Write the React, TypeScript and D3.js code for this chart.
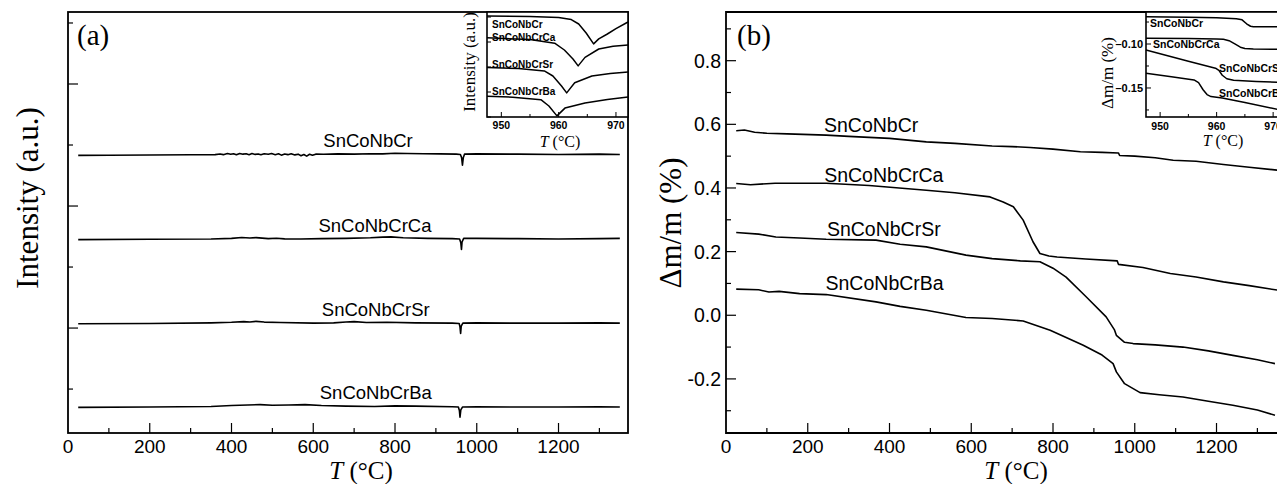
import React, { useEffect, useRef } from 'react'
import * as d3 from 'd3'

const W = 1277
const H = 484

const samples = ['SnCoNbCr', 'SnCoNbCrCa', 'SnCoNbCrSr', 'SnCoNbCrBa']

// (a) DSC signal, [T (°C), signal (a.u.)] before stacking
const dscCr = [[25, 0], [100, 0.002], [200, 0.006], [300, 0.01], [360, 0.012], [372, 0.022], [380, 0.012], [390, 0.03], [398, 0.018], [405, 0.028], [412, 0.01], [420, 0.032], [428, 0.02], [436, 0.026], [443, 0.012], [450, 0.03], [458, 0.016], [465, 0.024], [472, 0.01], [480, 0.028], [490, 0.018], [498, 0.03], [507, 0.012], [515, 0.026], [522, 0.004], [530, 0.022], [538, 0.012], [546, 0.028], [555, 0.008], [563, 0.02], [570, -0.005], [577, 0.015], [584, -0.012], [591, 0.018], [598, 0.002], [606, 0.02], [625, 0.018], [660, 0.024], [700, 0.02], [740, 0.028], [770, 0.024], [800, 0.036], [830, 0.03], [870, 0.026], [910, 0.025], [950, 0.02], [960, 0.015], [963, -0.04], [965, -0.16], [967, -0.04], [970, 0.02], [1000, 0.025], [1100, 0.02], [1200, 0.015], [1300, 0.02], [1350, 0.015]]
const dscCa = [[25, 0], [200, 0.005], [350, 0.01], [400, 0.02], [425, 0.034], [445, 0.026], [460, 0.032], [490, 0.015], [510, 0.022], [530, 0.012], [570, 0.01], [620, 0.015], [680, 0.02], [740, 0.03], [770, 0.04], [790, 0.045], [820, 0.03], [880, 0.02], [940, 0.015], [958, 0.01], [961, -0.05], [962.6, -0.16], [964, -0.04], [968, 0.02], [1000, 0.02], [1100, 0.015], [1200, 0.01], [1300, 0.015], [1350, 0.02]]
const dscSr = [[25, 0], [200, 0.005], [350, 0.015], [400, 0.025], [430, 0.036], [445, 0.03], [460, 0.04], [480, 0.028], [520, 0.02], [600, 0.01], [650, 0.015], [680, 0.03], [700, 0.036], [730, 0.02], [780, 0.025], [850, 0.015], [940, 0.01], [957, 0.005], [959, -0.05], [960.5, -0.16], [962, -0.04], [966, 0.01], [1000, 0.015], [1100, 0.01], [1200, 0.01], [1300, 0.015], [1350, 0.01]]
const dscBa = [[25, 0], [200, 0.005], [350, 0.015], [400, 0.03], [440, 0.04], [470, 0.045], [500, 0.035], [540, 0.04], [580, 0.045], [620, 0.03], [680, 0.02], [750, 0.015], [800, 0.025], [850, 0.02], [940, 0.01], [955, 0.005], [957.5, -0.05], [959, -0.16], [961, -0.04], [965, 0.005], [1000, 0.01], [1100, 0.005], [1200, 0.005], [1300, 0.01], [1350, 0.005]]
const dscShift = [3.83, 2.45, 1.07, -0.3]

// (b) TG mass change, [T (°C), Δm/m (%)]
const tgCr = [[25, 0.58], [45, 0.582], [70, 0.575], [100, 0.572], [150, 0.57], [245, 0.566], [300, 0.562], [400, 0.556], [490, 0.545], [560, 0.54], [651, 0.532], [700, 0.53], [744, 0.527], [800, 0.522], [867, 0.514], [920, 0.512], [960, 0.51], [963, 0.502], [1000, 0.5], [1050, 0.495], [1094, 0.487], [1150, 0.484], [1217, 0.474], [1280, 0.465], [1349, 0.456]]
const tgCa = [[25, 0.414], [60, 0.41], [120, 0.415], [245, 0.415], [350, 0.408], [490, 0.393], [560, 0.385], [646, 0.372], [678, 0.356], [703, 0.341], [727, 0.299], [751, 0.231], [768, 0.194], [790, 0.186], [810, 0.183], [880, 0.177], [957, 0.171], [960, 0.16], [1020, 0.15], [1087, 0.131], [1150, 0.12], [1217, 0.105], [1280, 0.093], [1349, 0.079]]
const tgSr = [[25, 0.26], [80, 0.255], [122, 0.246], [180, 0.243], [245, 0.239], [367, 0.236], [426, 0.223], [490, 0.215], [587, 0.189], [651, 0.178], [720, 0.171], [768, 0.168], [800, 0.148], [832, 0.12], [881, 0.058], [930, -0.005], [950, -0.045], [955, -0.063], [975, -0.085], [996, -0.089], [1050, -0.093], [1118, -0.1], [1180, -0.112], [1240, -0.126], [1300, -0.14], [1343, -0.152]]
const tgBa = [[25, 0.082], [80, 0.08], [105, 0.073], [130, 0.075], [180, 0.068], [245, 0.065], [367, 0.042], [426, 0.028], [490, 0.016], [587, -0.007], [651, -0.01], [727, -0.018], [793, -0.047], [874, -0.094], [920, -0.125], [947, -0.152], [955, -0.178], [975, -0.215], [1013, -0.243], [1060, -0.25], [1118, -0.257], [1180, -0.27], [1240, -0.283], [1300, -0.298], [1343, -0.314]]

// inset of (a), melting dip, [T (°C), signal (a.u.)]
const dipCr = [[947.5, 101.1], [955, 100.5], [960, 99.5], [962.2, 97.4], [963.5, 93], [964.8, 84], [966.1, 73.1], [967, 78.1], [968.5, 83], [970, 88.3], [972.1, 95]]
const dipCa = [[947.5, 79.2], [955, 77.5], [959.3, 73.8], [961, 67], [962.5, 58], [963.4, 51.1], [964.6, 59.6], [967, 68], [969.5, 70.8], [972.1, 72.1]]
const dipSr = [[947.5, 49.4], [953, 48.5], [957.5, 46.1], [959, 41], [960.5, 31], [961.4, 24.1], [962.8, 34.2], [965.8, 41], [969, 43.5], [972.1, 45]]
const dipBa = [[947.5, 20.7], [952, 19.8], [956.9, 17.3], [958.3, 11], [959.7, 1.1], [961.1, 8.9], [964.6, 14], [968.5, 17.5], [972.1, 20]]

// inset of (b), mass step, [T (°C), Δm/m (%)]
const stepCr = [[947.5, -0.069], [955, -0.0695], [960, -0.07], [963.5, -0.0712], [964.5, -0.0725], [965.3, -0.077], [966, -0.0798], [966.5, -0.0803], [972, -0.0803]]
const stepCa = [[947.5, -0.0935], [955, -0.0938], [960, -0.0942], [961.2, -0.0947], [962.2, -0.0962], [963.3, -0.1002], [964.2, -0.1036], [965, -0.105], [966.5, -0.1057], [972, -0.106]]
const stepSr = [[947.5, -0.1068], [955, -0.1195], [959.8, -0.1275], [960.4, -0.13], [961, -0.1355], [961.8, -0.1395], [963, -0.1412], [967, -0.1425], [972, -0.144]]
const stepBa = [[947.5, -0.1333], [952, -0.1372], [956, -0.1409], [956.8, -0.144], [957.6, -0.152], [958.3, -0.1575], [959, -0.1598], [961, -0.1615], [965, -0.1665], [972, -0.176]]

const tLabels = [0, 200, 400, 600, 800, 1000, 1200]
const tgLabels = [-0.2, 0, 0.2, 0.4, 0.6, 0.8]
const insetTLabels = [950, 960, 970]
const insetTgLabels = [-0.1, -0.15]

const sans = 'Liberation Sans, Arial, Helvetica, sans-serif'
const serif = 'Liberation Serif, Times New Roman, serif'

export default function App() {
  const ref = useRef<SVGSVGElement>(null)

  useEffect(() => {
    const svg = d3.select(ref.current)
    svg.selectAll('*').remove()
    svg.append('rect').attr('width', W).attr('height', H).attr('fill', '#fff')

    const fmt = d3.formatLocale({ decimal: '.', thousands: ',', grouping: [3], currency: ['', ''], minus: '-' })
    const f1 = fmt.format('.1f')
    const f2 = fmt.format('.2f')

    const curve = (g, x, y, data, shift = 0, w = 1.6) => {
      const line = d3.line<number[]>().x(d => x(d[0])).y(d => y(d[1] + shift))
      g.append('path').attr('d', line(data)).attr('fill', 'none')
        .attr('stroke', '#000').attr('stroke-width', w).attr('stroke-linejoin', 'round')
    }

    // ticks along the bottom, pointing up into the box
    const xTicks = (g, x, y0, values, len, w = 1.2) => {
      g.selectAll(null).data(values).enter().append('line')
        .attr('x1', d => x(d)).attr('x2', d => x(d))
        .attr('y1', y0).attr('y2', (d, i) => y0 - len(d, i))
        .attr('stroke', '#000').attr('stroke-width', w)
    }
    // ticks along the left, pointing right into the box
    const yTicks = (g, y, x0, values, len, w = 1.2) => {
      g.selectAll(null).data(values).enter().append('line')
        .attr('y1', d => y(d)).attr('y2', d => y(d))
        .attr('x1', x0).attr('x2', (d, i) => x0 + len(d, i))
        .attr('stroke', '#000').attr('stroke-width', w)
    }
    const tempLabel = (g, cx, by, size) => {
      const t = g.append('text').attr('x', cx).attr('y', by).attr('text-anchor', 'middle')
        .style('font-family', serif).style('font-size', size + 'px')
      t.append('tspan').style('font-style', 'italic').text('T')
      t.append('tspan').text(' (°C)')
    }
    const yTitle = (g, cx, cy, size, txt) => {
      g.append('text').attr('transform', `translate(${cx},${cy}) rotate(-90)`)
        .attr('text-anchor', 'middle').attr('dominant-baseline', 'central')
        .style('font-family', serif).style('font-size', size + 'px').text(txt)
    }

    // ---------- panel (a): DSC ----------
    const xA = d3.scaleLinear().domain([0, 1370]).range([68, 628])
    const yA = d3.scaleLinear().domain([-0.72, 6.18]).range([433, 12])
    const ga = svg.append('g')

    ;[dscCr, dscCa, dscSr, dscBa].forEach((s, i) => curve(ga, xA, yA, s, dscShift[i]))
    const labT = [734, 751, 753, 753]
    samples.forEach((name, i) => {
      ga.append('text').attr('x', xA(labT[i])).attr('y', yA(dscShift[i]) - 8)
        .attr('text-anchor', 'middle').style('font-family', sans).style('font-size', '18.5px').text(name)
    })

    xTicks(ga, xA, 433, d3.range(100, 1370, 100), d => (d % 200 === 0 ? 10 : 5))
    yTicks(ga, yA, 68, d3.range(0, 7), d => (d % 2 === 1 ? 10 : 5))
    ga.append('rect').attr('x', 68).attr('y', 12).attr('width', 560).attr('height', 421)
      .attr('fill', 'none').attr('stroke', '#000').attr('stroke-width', 1.8)
    ga.selectAll(null).data(tLabels).enter().append('text')
      .attr('x', d => xA(d)).attr('y', 453).attr('text-anchor', 'middle')
      .style('font-family', sans).style('font-size', '19px').text(d => d)
    tempLabel(ga, 361, 479, 25)
    yTitle(ga, 27, 198, 31, 'Intensity (a.u.)')
    ga.append('text').attr('x', 77).attr('y', 45).style('font-family', serif).style('font-size', '29px').text('(a)')

    // inset (a)
    const xIa = d3.scaleLinear().domain([947.5, 972.1]).range([487, 628])
    const yIa = d3.scaleLinear().domain([0, 103]).range([117, 14])
    const gia = svg.append('g')
    gia.append('rect').attr('x', 487).attr('y', 12).attr('width', 141).attr('height', 105).attr('fill', '#fff')
    ;[dipCr, dipCa, dipSr, dipBa].forEach(s => curve(gia, xIa, yIa, s, 0, 1.5))
    const insetLabA = [27.7, 40.5, 67.6, 95]
    samples.forEach((name, i) => {
      gia.append('text').attr('x', 492).attr('y', insetLabA[i])
        .style('font-family', sans).style('font-weight', 'bold').style('font-size', '10px').text(name)
    })
    xTicks(gia, xIa, 117, [950, 955, 960, 965, 970], d => (d % 10 === 0 ? 5 : 3), 1)
    yTicks(gia, yIa, 487, [0, 25, 50, 75, 100], () => 4, 1)
    gia.append('rect').attr('x', 487).attr('y', 12).attr('width', 141).attr('height', 105)
      .attr('fill', 'none').attr('stroke', '#000').attr('stroke-width', 1.6)
    gia.selectAll(null).data(insetTLabels).enter().append('text')
      .attr('x', d => xIa(d)).attr('y', 129).attr('text-anchor', 'middle')
      .style('font-family', sans).style('font-weight', 'bold').style('font-size', '10.5px').text(d => d)
    tempLabel(gia, 560, 147, 16)
    yTitle(gia, 469, 62, 17, 'Intensity (a.u.)')

    // ---------- panel (b): TG ----------
    const xB = d3.scaleLinear().domain([0, 1380]).range([726, 726 + 1380 * 0.40876])
    const yB = d3.scaleLinear().domain([-0.37, 0.953]).range([433, 12])
    const gb = svg.append('g')

    ;[tgCr, tgCa, tgSr, tgBa].forEach(s => curve(gb, xB, yB, s))
    const labB = [[355, 0.577], [386, 0.42], [386, 0.249], [388, 0.079]]
    samples.forEach((name, i) => {
      gb.append('text').attr('x', xB(labB[i][0])).attr('y', yB(labB[i][1]))
        .attr('text-anchor', 'middle').style('font-family', sans).style('font-size', '19.5px').text(name)
    })

    xTicks(gb, xB, 433, d3.range(100, 1380, 100), d => (d % 200 === 0 ? 10 : 5))
    yTicks(gb, yB, 726, d3.range(-3, 10).map(v => v / 10), (d, i) => (i % 2 === 1 ? 10 : 5))
    gb.append('path').attr('d', `M${xB(1380)},12H726V433H${xB(1380)}`)
      .attr('fill', 'none').attr('stroke', '#000').attr('stroke-width', 1.8)
    gb.selectAll(null).data(tLabels).enter().append('text')
      .attr('x', d => xB(d)).attr('y', 453).attr('text-anchor', 'middle')
      .style('font-family', sans).style('font-size', '19px').text(d => d)
    gb.selectAll(null).data(tgLabels).enter().append('text')
      .attr('x', 721).attr('y', d => yB(d) + 7).attr('text-anchor', 'end')
      .style('font-family', sans).style('font-size', '19.5px').text(d => f1(d))
    tempLabel(gb, 1016, 479, 25)
    yTitle(gb, 670, 223, 31, 'Δm/m (%)')
    gb.append('text').attr('x', 737).attr('y', 45).style('font-family', serif).style('font-size', '29px').text('(b)')

    // inset (b), cut by the right edge of the picture as in the source figure
    const xIb = d3.scaleLinear().domain([947.5, 972.1]).range([1146, 1285])
    const yIb = d3.scaleLinear().domain([-0.0636, -0.183]).range([12, 117])
    const gib = svg.append('g')
    gib.append('rect').attr('x', 1146).attr('y', 12).attr('width', 139).attr('height', 105).attr('fill', '#fff')
    ;[stepCr, stepCa, stepSr, stepBa].forEach(s => curve(gib, xIb, yIb, s, 0, 1.5))
    const insetLabB = [[1150, 27.3], [1153, 48], [1219, 71.7], [1219, 96.7]]
    samples.forEach((name, i) => {
      gib.append('text').attr('x', insetLabB[i][0]).attr('y', insetLabB[i][1])
        .style('font-family', sans).style('font-weight', 'bold').style('font-size', '10.5px').text(name)
    })
    xTicks(gib, xIb, 117, [950, 955, 960, 965, 970], d => (d % 10 === 0 ? 5 : 3), 1)
    yTicks(gib, yIb, 1146, [-0.075, -0.1, -0.125, -0.15, -0.175], (d, i) => (i % 2 === 1 ? 5 : 3), 1)
    gib.append('rect').attr('x', 1146).attr('y', 12).attr('width', 139).attr('height', 105)
      .attr('fill', 'none').attr('stroke', '#000').attr('stroke-width', 1.6)
    gib.selectAll(null).data(insetTLabels).enter().append('text')
      .attr('x', d => xIb(d)).attr('y', 130).attr('text-anchor', 'middle')
      .style('font-family', sans).style('font-weight', 'bold').style('font-size', '10.5px').text(d => d)
    gib.selectAll(null).data(insetTgLabels).enter().append('text')
      .attr('x', 1143).attr('y', d => yIb(d) + 4).attr('text-anchor', 'end')
      .style('font-family', sans).style('font-weight', 'bold').style('font-size', '11px').text(d => '–' + f2(-d))
    tempLabel(gib, 1223, 146, 16)
    yTitle(gib, 1107, 73, 17, 'Δm/m (%)')
  }, [])

  return (
    <svg ref={ref} width={W} height={H}
      style={{ position: 'absolute', left: 0, top: 0, display: 'block' }} />
  )
}
